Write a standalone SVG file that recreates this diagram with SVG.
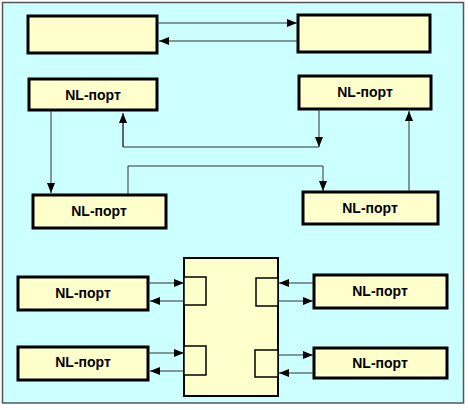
<svg xmlns="http://www.w3.org/2000/svg" width="468" height="410" viewBox="0 0 468 410">
<defs>
<marker id="ah" viewBox="0 0 10 8" refX="10" refY="4" markerWidth="10" markerHeight="8" markerUnits="userSpaceOnUse" orient="auto">
<path d="M0,0 L10,4 L0,8 Z" fill="#000"/>
</marker>
</defs>
<style>
.nl{fill:#ffffcc;stroke:#000;stroke-width:3}
.sw{fill:#ffffcc;stroke:#000;stroke-width:2}
.pt{fill:#ffffcc;stroke:#000;stroke-width:1.5}
.c{fill:none;stroke:#333;stroke-width:1;marker-end:url(#ah)}
.l{fill:none;stroke:#333;stroke-width:1}
text{font-family:"Liberation Sans",Arial,sans-serif;font-size:14px;font-weight:bold;fill:#000;text-anchor:middle}
</style>
<rect x="0" y="0" width="468" height="410" fill="#ffffff"/>
<rect id="bg" x="2.5" y="2.5" width="461" height="400.5" fill="#ccffff" stroke="#555" stroke-width="1.5"/>
<g id="top-left"><rect class="nl" x="28" y="16" width="129" height="37"/></g>
<g id="top-right"><rect class="nl" x="298" y="15" width="132" height="37"/></g>
<g id="nl1"><rect class="nl" x="29" y="79" width="128" height="31"/><text x="93" y="100">NL-порт</text></g>
<g id="nl2"><rect class="nl" x="299" y="76" width="132" height="33"/><text x="365" y="97">NL-порт</text></g>
<g id="nl3"><rect class="nl" x="33" y="195" width="133" height="33"/><text x="99" y="216">NL-порт</text></g>
<g id="nl4"><rect class="nl" x="303" y="192" width="135" height="32"/><text x="370" y="213">NL-порт</text></g>
<g id="switch">
<rect class="sw" x="184" y="258" width="94" height="138"/>
<rect class="pt" x="184" y="277" width="22" height="28"/>
<rect class="pt" x="184" y="346" width="22" height="29"/>
<rect class="pt" x="256" y="278" width="22" height="28"/>
<rect class="pt" x="255" y="350" width="23" height="27"/>
</g>
<g id="nl5"><rect class="nl" x="18" y="277" width="130" height="33"/><text x="83" y="298">NL-порт</text></g>
<g id="nl6"><rect class="nl" x="18" y="347" width="130" height="33"/><text x="83" y="367">NL-порт</text></g>
<g id="nl7"><rect class="nl" x="314" y="275" width="133" height="33"/><text x="380" y="296">NL-порт</text></g>
<g id="nl8"><rect class="nl" x="314" y="348" width="133" height="30"/><text x="380" y="368">NL-порт</text></g>
<g id="connectors">
<path class="c" d="M157,23 H297"/>
<path class="c" d="M298,41 H159"/>
<path class="c" d="M51,110 V193"/>
<path class="c" d="M319,109 V147"/>
<path class="l" d="M319,147 H123 V120"/>
<path class="c" d="M123,147 V113"/>
<path class="c" d="M128,194 V166 H323 V191"/>
<path class="c" d="M409,191 V111"/>
<path class="c" d="M148,283 H184"/>
<path class="c" d="M184,301 H150"/>
<path class="c" d="M148,353 H184"/>
<path class="c" d="M184,371 H150"/>
<path class="c" d="M313,283 H279"/>
<path class="c" d="M278,301 H313"/>
<path class="c" d="M278,355 H313"/>
<path class="c" d="M313,373 H279"/>
</g>
</svg>
